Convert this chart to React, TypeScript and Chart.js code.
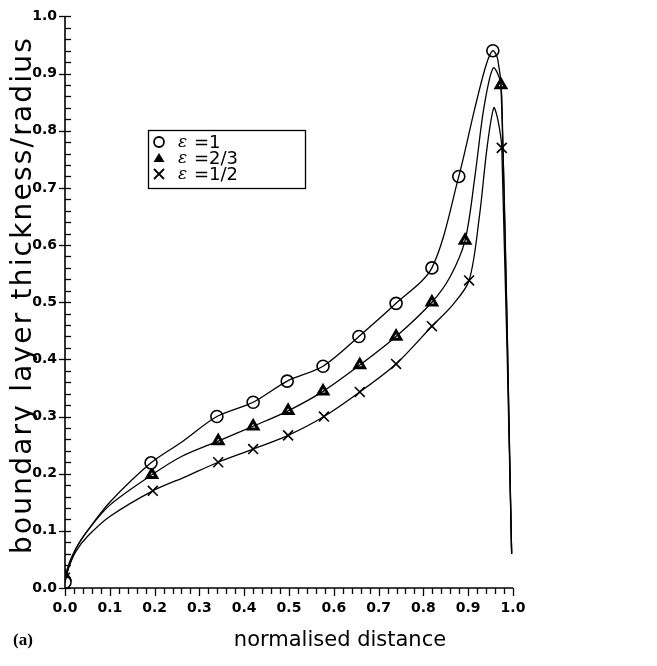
import React, { useEffect, useRef } from "react";
import { Chart, registerables } from "chart.js";

Chart.register(...registerables);

// ---------- data ----------
// epsilon = 1 (circles)
const curve1X = [0, 0.01, 0.025, 0.05, 0.1, 0.192, 0.26, 0.339, 0.42, 0.496, 0.576, 0.656, 0.739, 0.819, 0.879, 0.915, 0.94, 0.955, 0.966, 0.975, 0.997];
const curve1Y = [0.01, 0.04, 0.07, 0.1, 0.15, 0.219, 0.255, 0.3, 0.325, 0.362, 0.388, 0.44, 0.498, 0.56, 0.72, 0.84, 0.915, 0.94, 0.925, 0.86, 0.06];
const mark1X = [0.0, 0.192, 0.339, 0.42, 0.496, 0.576, 0.656, 0.739, 0.819, 0.879, 0.955];
const mark1Y = [0.01, 0.219, 0.3, 0.325, 0.362, 0.388, 0.44, 0.498, 0.56, 0.72, 0.94];

// epsilon = 2/3 (triangles)
const curve2X = [0, 0.01, 0.025, 0.05, 0.1, 0.194, 0.26, 0.342, 0.42, 0.498, 0.576, 0.658, 0.739, 0.819, 0.86, 0.893, 0.915, 0.935, 0.956, 0.973, 0.997];
const curve2Y = [0.02, 0.045, 0.07, 0.1, 0.145, 0.198, 0.23, 0.257, 0.283, 0.31, 0.344, 0.39, 0.44, 0.5, 0.545, 0.608, 0.72, 0.84, 0.91, 0.88, 0.06];
const mark2X = [0.0, 0.194, 0.342, 0.42, 0.498, 0.576, 0.658, 0.739, 0.819, 0.893, 0.973];
const mark2Y = [0.02, 0.198, 0.257, 0.283, 0.31, 0.344, 0.39, 0.44, 0.5, 0.608, 0.88];

// epsilon = 1/2 (crosses)
const curve3X = [0, 0.01, 0.025, 0.05, 0.1, 0.196, 0.27, 0.342, 0.42, 0.498, 0.578, 0.658, 0.739, 0.819, 0.865, 0.902, 0.925, 0.942, 0.957, 0.966, 0.975, 0.997];
const curve3Y = [0.018, 0.04, 0.065, 0.09, 0.125, 0.17, 0.195, 0.22, 0.243, 0.267, 0.3, 0.343, 0.392, 0.458, 0.495, 0.538, 0.65, 0.77, 0.84, 0.82, 0.77, 0.06];
const mark3X = [0.0, 0.196, 0.342, 0.42, 0.498, 0.578, 0.658, 0.739, 0.819, 0.902, 0.975];
const mark3Y = [0.018, 0.17, 0.22, 0.243, 0.267, 0.3, 0.343, 0.392, 0.458, 0.538, 0.77];

const legendLabels = ["=1", "=2/3", "=1/2"];
const xTitle = "normalised distance";
const yTitle = "boundary layer thickness/radius";
const panelLabel = "(a)";

const zip = (xs: number[], ys: number[]) => xs.map((x, i) => ({ x, y: ys[i] }));

const FONT = "'DejaVu Sans', sans-serif";

const axisPlugin = {
  id: "axisTicks",
  afterDraw(chart: any) {
    const { ctx } = chart;
    const xs = chart.scales.x;
    const ys = chart.scales.y;
    const x0 = xs.getPixelForValue(0);
    const x1 = xs.getPixelForValue(1);
    const y0 = ys.getPixelForValue(0);
    const y1 = ys.getPixelForValue(1);
    ctx.save();
    ctx.strokeStyle = "#000";
    ctx.lineWidth = 1.6;
    ctx.beginPath();
    ctx.moveTo(x0, y1);
    ctx.lineTo(x0, y0);
    ctx.lineTo(x1, y0);
    ctx.stroke();
    ctx.lineWidth = 1.3;
    for (let i = 0; i <= 50; i++) {
      const v = i / 50;
      const major = i % 5 === 0;
      const px = Math.round(xs.getPixelForValue(v)) + 0.5;
      ctx.beginPath();
      ctx.moveTo(px, y0);
      ctx.lineTo(px, y0 + (major ? 8 : 6));
      ctx.stroke();
      const py = Math.round(ys.getPixelForValue(v)) + 0.5;
      ctx.beginPath();
      ctx.moveTo(x0 - (major ? 6 : 0), py);
      ctx.lineTo(x0 + 6, py);
      ctx.stroke();
    }
    // axis titles
    ctx.fillStyle = "#000";
    ctx.font = `21px ${FONT}`;
    ctx.textAlign = "center";
    ctx.textBaseline = "middle";
    ctx.fillText(xTitle, 340, 641);
    ctx.save();
    ctx.translate(24, 295);
    ctx.rotate(-Math.PI / 2);
    ctx.font = `28px ${FONT}`;
    (ctx as any).letterSpacing = "2.2px";
    ctx.fillText(yTitle, 0, 0);
    ctx.restore();
    // legend
    const L = 148, T = 130, W = 157, H = 58;
    ctx.lineWidth = 1.3;
    ctx.strokeRect(L + 0.5, T + 0.5, W, H);
    const rows = [T + 12, T + 28, T + 44];
    const sx = L + 11;
    ctx.lineWidth = 1.8;
    ctx.beginPath();
    ctx.arc(sx, rows[0], 5, 0, Math.PI * 2);
    ctx.stroke();
    ctx.beginPath();
    ctx.moveTo(sx, rows[1] - 5);
    ctx.lineTo(sx + 5.5, rows[1] + 4);
    ctx.lineTo(sx - 5.5, rows[1] + 4);
    ctx.closePath();
    ctx.fill();
    ctx.beginPath();
    ctx.moveTo(sx - 5, rows[2] - 5);
    ctx.lineTo(sx + 5, rows[2] + 5);
    ctx.moveTo(sx + 5, rows[2] - 5);
    ctx.lineTo(sx - 5, rows[2] + 5);
    ctx.stroke();
    ctx.textAlign = "left";
    rows.forEach((ry, i) => {
      ctx.font = `italic 17px 'DejaVu Serif', serif`;
      ctx.fillText("\u03b5", L + 30, ry + 1);
      ctx.font = `18px ${FONT}`;
      ctx.fillText(legendLabels[i], L + 46, ry + 1);
    });
    ctx.restore();
  },
};

export default function App() {
  const ref = useRef<HTMLCanvasElement | null>(null);
  useEffect(() => {
    if (!ref.current) return;
    const lineDs = (xs: number[], ys: number[]) => ({
      type: "line" as const,
      data: zip(xs, ys),
      borderColor: "#000",
      borderWidth: 1.3,
      pointRadius: 0,
      fill: false,
      tension: 0.3,
    });
    const markDs = (xs: number[], ys: number[], style: string, radius: number, bw: number) => ({
      type: "scatter" as const,
      data: zip(xs, ys),
      showLine: false,
      pointStyle: style,
      pointRadius: radius,
      pointBackgroundColor: "#fff",
      pointBorderColor: "#000",
      pointBorderWidth: bw,
    });
    const chart = new Chart(ref.current, {
      type: "scatter",
      data: {
        datasets: [
          lineDs(curve1X, curve1Y),
          lineDs(curve2X, curve2Y),
          lineDs(curve3X, curve3Y),
          markDs(mark1X, mark1Y, "circle", 6, 1.6),
          markDs(mark2X, mark2Y, "triangle", 5.5, 3),
          markDs(mark3X, mark3Y, "crossRot", 7, 1.6),
        ] as any,
      },
      options: {
        animation: false,
        responsive: true,
        maintainAspectRatio: false,
        layout: { padding: { top: 16, right: 144, left: 0, bottom: 0 } },
        plugins: { legend: { display: false }, tooltip: { enabled: false } },
        scales: {
          x: {
            type: "linear",
            min: 0,
            max: 1,
            grid: { display: false, drawTicks: false },
            border: { display: false },
            ticks: {
              stepSize: 0.1,
              padding: 12,
              color: "#000",
              font: { family: FONT, size: 14, weight: "bold" },
              callback: (v: any) => Number(v).toFixed(1),
            },
            afterFit: (s: any) => {
              s.height = 78;
            },
          },
          y: {
            type: "linear",
            min: 0,
            max: 1,
            grid: { display: false, drawTicks: false },
            border: { display: false },
            ticks: {
              stepSize: 0.1,
              padding: 8,
              color: "#000",
              font: { family: FONT, size: 14, weight: "bold" },
              callback: (v: any) => Number(v).toFixed(1),
            },
            afterFit: (s: any) => {
              s.width = 65;
            },
          },
        },
      } as any,
      plugins: [axisPlugin],
    });
    return () => chart.destroy();
  }, []);
  return (
    <div style={{ position: "absolute", left: 0, top: 0, width: 657, height: 666, background: "#fff" }}>
      <canvas ref={ref} />
      <div
        style={{
          position: "absolute",
          left: 13,
          top: 630,
          fontFamily: "'Liberation Serif', serif",
          fontSize: 17,
          fontWeight: "bold",
          color: "#000",
        }}
      >
        {panelLabel}
      </div>
    </div>
  );
}
